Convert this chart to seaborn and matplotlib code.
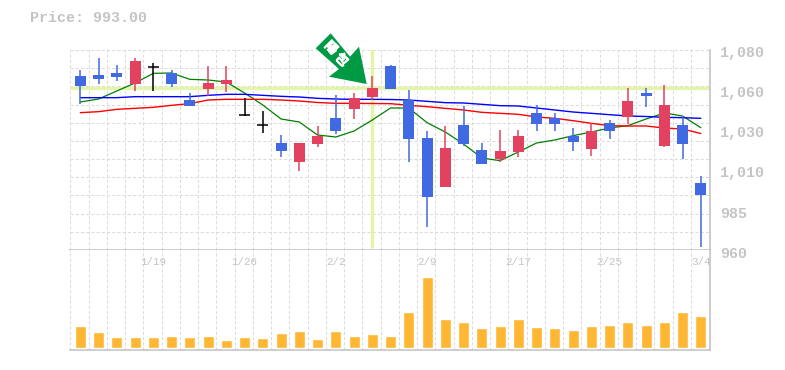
import numpy as np
import pandas as pd
import matplotlib
matplotlib.use("Agg")
import matplotlib.pyplot as plt
import matplotlib.patheffects as pe
from matplotlib.patches import Polygon
import seaborn as sns

# Daily prices
open_p = [1064.4, 1065, 1066.2, 1059.6, 1069.8, 1066.2, 1050, 1056.6, 1059.6, 1040.8, 1034.7, 1024.2,
          1012.8, 1023.6, 1039.2, 1044.6, 1051.8, 1070.4, 1050, 1027.2, 997.8, 1035, 1020, 1014.6,
          1018.8, 1042.2, 1039.2, 1028.4, 1020.6, 1036.2, 1039.8, 1054.2, 1022.4, 1035, 1000.2]
close_p = [1058.4, 1062.6, 1063.8, 1073.4, 1069.8, 1059.6, 1046.4, 1060.2, 1062, 1040.8, 1034.7, 1019.4,
           1024.2, 1028.4, 1031.4, 1051.2, 1057.2, 1056.6, 1026.6, 991.8, 1021.2, 1023.6, 1011.6, 1019.4,
           1028.4, 1035.6, 1035.6, 1024.8, 1031.4, 1031.4, 1049.4, 1052.4, 1047, 1023.6, 993]
high_p = [1068, 1075.2, 1071, 1075.2, 1072, 1068, 1054.2, 1070.4, 1070.4, 1051.2, 1043.4, 1029,
          1024.2, 1034.4, 1053, 1054.2, 1064.4, 1071, 1056, 1031.4, 1034.4, 1046.4, 1024.2, 1032,
          1032, 1047, 1042.2, 1033.2, 1036.2, 1038, 1057.2, 1057.2, 1059, 1040.4, 1004.4]
low_p = [1047.6, 1059.6, 1061.4, 1055.4, 1055.6, 1057.8, 1046.4, 1052.4, 1054.8, 1040.4, 1030.2, 1015.8,
         1007.4, 1021.8, 1029.6, 1038.6, 1050, 1056.6, 1012.8, 973.8, 997.8, 1022.4, 1011.6, 1012.8,
         1015.8, 1031.4, 1031.4, 1019.4, 1016.4, 1026.6, 1035.6, 1045.8, 1021.8, 1014.6, 961.8]

ma_green = [1048.8, 1050.6, 1055.4, 1060.2, 1066, 1066.2, 1062.4, 1062, 1060.8, 1054.2, 1047, 1038.6,
            1036.8, 1029, 1027.8, 1031.4, 1038, 1045.2, 1045.2, 1036.4, 1030.8, 1023.6, 1015.2, 1013.6,
            1018.8, 1024.2, 1026, 1028.6, 1030.8, 1033.2, 1034.6, 1038.6, 1042.2, 1040.4, 1033.4]
ma_blue = [1051.4, 1051.4, 1051.4, 1052, 1052, 1052, 1052, 1052.8, 1053.4, 1053.4, 1052.8, 1052.2,
           1051.8, 1051, 1050.6, 1050.4, 1050.4, 1050.3, 1050, 1049.2, 1048.4, 1048.2, 1047.4, 1046.6,
           1046.4, 1045.2, 1044, 1042.8, 1042, 1041.2, 1040.4, 1040.1, 1039.6, 1039.4, 1039]
ma_red = [1042.4, 1043, 1044.4, 1045, 1045.6, 1046.8, 1047.8, 1050, 1050.4, 1050.4, 1050.4, 1050,
          1049.4, 1048.5, 1048, 1048, 1047.9, 1047.8, 1046.8, 1046, 1045, 1044, 1042.6, 1042,
          1041.4, 1039.8, 1039, 1037.6, 1036, 1034.6, 1034.4, 1034.4, 1033.2, 1032.6, 1029.9]

volume = [22, 16, 11, 11, 11, 12, 11, 12, 8, 11, 10, 15, 17, 9, 17, 12, 14, 12, 36, 71,
          29, 26, 20, 22, 29, 21, 20, 18, 22, 23, 26, 23, 26, 36, 32]

date_pos = [4, 9, 14, 19, 24, 29, 34]
date_labels = ["1/19", "1/26", "2/2", "2/9", "2/17", "2/25", "3/4"]
price_ticks = [1080, 1056, 1032, 1008, 984, 960]
price_labels = ["1,080", "1,060", "1,030", "1,010", "985", "960"]
marked_day = 16

W, H = 785, 370
GREY = "#c4c4c4"
GRID = "#dcdcdc"
UP = "#e2425f"
DOWN = "#4169e1"
MONO = "Liberation Mono"
DASH = (0, (3, 2))

sns.set_style("white")
plt.rcParams["font.family"] = [MONO, "DejaVu Sans"]

df = pd.DataFrame({"day": np.arange(len(open_p)), "open": open_p, "close": close_p,
                   "high": high_p, "low": low_p, "volume": volume,
                   "ma5": ma_green, "ma25": ma_red, "ma13": ma_blue})
colors = [UP if c > o else DOWN if c < o else "black" for o, c in zip(df["open"], df["close"])]

fig = plt.figure(figsize=(W / 100, H / 100), dpi=100)
L, R = 70.3 / W, 710.3 / W
ax = fig.add_axes([L, 1 - 250 / H, R - L, 200 / H])
ax_vol = fig.add_axes([L, 1 - 350 / H, R - L, 100 / H])

grid_x = np.arange(0, len(df) + 1) - 0.548
for a in (ax, ax_vol):
    a.set_xlim(-0.548, 34.52)
    a.set_xticks(grid_x[:-1])
    a.tick_params(length=0, labelbottom=False, labelleft=False)
    a.grid(axis="x", color=GRID, lw=0.75, ls=DASH)
    a.set_axisbelow(True)
    for s in a.spines.values():
        s.set_visible(False)
    a.spines["right"].set_visible(True)
    a.spines["bottom"].set_visible(True)
    a.spines["right"].set_color(GREY)
    a.spines["bottom"].set_color(GREY)
    a.spines["right"].set_linewidth(1.2)
    a.spines["bottom"].set_linewidth(1.2)

# price panel
ax.set_ylim(960, 1080)
ax.set_yticks(np.arange(960, 1081, 120 / 11))
ax.grid(axis="y", color=GRID, lw=0.75, ls=DASH)
ax.axhline(close_p[marked_day], color="#e3f5a8", lw=2.4, zorder=1)
ax.vlines(marked_day, 961.5, 1080, color="#e3f5a8", lw=2.4, zorder=1)

sns.lineplot(data=df, x="day", y="ma5", color="#008000", lw=0.9, ax=ax, zorder=2)
sns.lineplot(data=df, x="day", y="ma13", color="#0000ff", lw=1.0, ax=ax, zorder=2)
sns.lineplot(data=df, x="day", y="ma25", color="#ff0000", lw=1.0, ax=ax, zorder=2)
ax.set_xlabel("")
ax.set_ylabel("")

ax.vlines(df["day"], df["low"], df["high"], colors=colors, lw=1.1, zorder=3)
bottoms = df[["open", "close"]].min(axis=1)
heights = (df["open"] - df["close"]).abs()
ax.bar(df["day"], heights, bottom=bottoms, width=0.6, color=colors, lw=0, zorder=4)
doji = df[df["open"] == df["close"]]
ax.hlines(doji["open"], doji["day"] - 0.3, doji["day"] + 0.3, colors="black", lw=1.1, zorder=4)

for tick, lab in zip(price_ticks, price_labels):
    ax.annotate(lab, xy=(1, tick), xycoords=("axes fraction", "data"), xytext=(10, -3.5),
                textcoords="offset pixels", ha="left", va="center", color=GREY,
                fontsize=10.8, fontweight="bold", annotation_clip=False)

# volume panel
sns.barplot(data=df, x="day", y="volume", color="#ffb733", width=0.6, native_scale=True,
            saturation=1, ax=ax_vol, zorder=3)
ax_vol.set_xlim(-0.548, 34.52)
ax_vol.set_ylim(-2, 98)
ax_vol.set_xticks(grid_x[:-1])
ax_vol.set_xticklabels([])
ax_vol.set_xlabel("")
ax_vol.set_ylabel("")
for p, lab in zip(date_pos, date_labels):
    ax_vol.text(p, 86, lab, ha="center", va="center", color=GREY, fontsize=7.8)

fig.text(30 / W, 1 - 18 / H, f"Price: {close_p[-1]:.2f}", color=GREY, fontsize=10.8,
         fontweight="bold", ha="left", va="center")

# marker arrow
arrow_px = [(330.7, 33.3), (315.7, 48.3), (339, 69), (329, 76.7), (366.7, 84), (359, 46.7), (350, 56.7)]
arrow_xy = [(x / W, 1 - y / H) for x, y in arrow_px]
fig.add_artist(Polygon(arrow_xy, closed=True, transform=fig.transFigure, fc="#009944", ec="none", zorder=10))
for ch, (x, y) in zip("陽包", [(331, 48), (341.5, 60)]):
    t = fig.text(x / W, 1 - y / H, ch, color="white", fontsize=9, fontweight="bold", rotation=-45,
                 ha="center", va="center", family=["Noto Sans CJK JP", "DejaVu Sans"], zorder=11)
    t.set_path_effects([pe.withStroke(linewidth=0.6, foreground="white")])

fig.savefig("out.png", dpi=100)
